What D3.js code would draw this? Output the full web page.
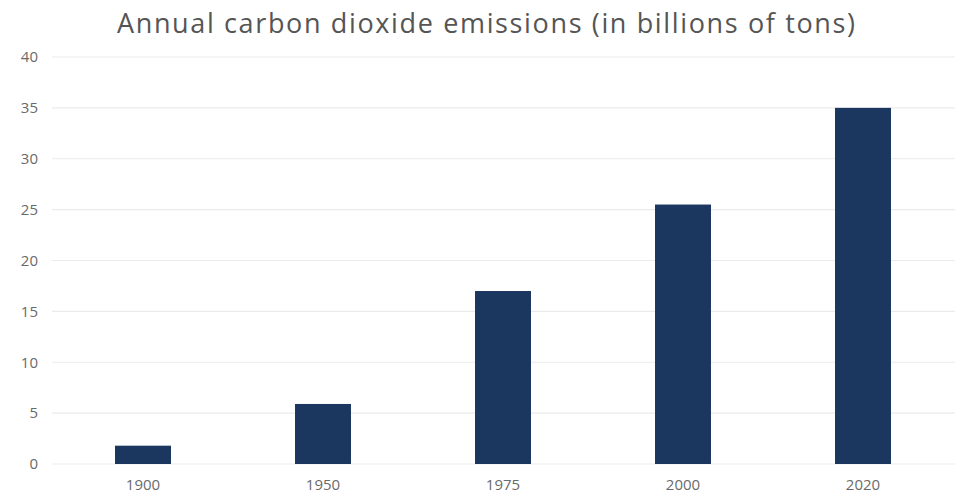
<!DOCTYPE html>
<html><head><meta charset="utf-8">
<script src="https://cdn.jsdelivr.net/npm/d3@7"></script>
<style>body{margin:0;background:#fff;}</style>
</head><body>
<svg id="chart" width="959" height="500"></svg>
<script>
const years = ["1900", "1950", "1975", "2000", "2020"];
const emissions = [1.8, 5.9, 17.0, 25.5, 35.0];
const yTicks = [0, 5, 10, 15, 20, 25, 30, 35, 40];
const titleText = "Annual carbon dioxide emissions (in billions of tons)";

const svg = d3.select("#chart");
const font = "'Open Sans', sans-serif";
const x = d3.scaleBand().domain(years).range([53, 953]).paddingInner(0.689).paddingOuter(0.3445);
const y = d3.scaleLinear().domain([0, 40]).range([464, 57]);

svg.append("g").selectAll("line").data(yTicks).join("line")
  .attr("x1", 52).attr("x2", 955)
  .attr("y1", d => y(d)).attr("y2", d => y(d))
  .attr("stroke", "#ebebeb").attr("stroke-width", 1.2);

const yAxis = svg.append("g").attr("transform", "translate(38,0)")
  .call(d3.axisLeft(y).tickValues(yTicks).tickSize(0).tickPadding(0));
yAxis.select(".domain").remove();
yAxis.selectAll("text").attr("font-family", font).attr("font-size", 15).attr("fill", "#6a6a6a");

const xAxis = svg.append("g").attr("transform", "translate(0,479)")
  .call(d3.axisBottom(x).tickSize(0).tickPadding(0));
xAxis.select(".domain").remove();
xAxis.selectAll("text").attr("font-family", font).attr("font-size", 15).attr("fill", "#6a6a6a").attr("dy", "0.71em");

svg.append("g").selectAll("rect").data(years).join("rect")
  .attr("x", d => x(d)).attr("width", x.bandwidth())
  .attr("y", (d, i) => y(emissions[i]))
  .attr("height", (d, i) => y(0) - y(emissions[i]))
  .attr("fill", "#1b365f");

svg.append("text").attr("x", 486).attr("y", 33).attr("text-anchor", "middle")
  .attr("font-family", font).attr("font-size", 27).attr("fill", "#555")
  .attr("textLength", 738).attr("lengthAdjust", "spacing")
  .text(titleText);
</script>
</body></html>
